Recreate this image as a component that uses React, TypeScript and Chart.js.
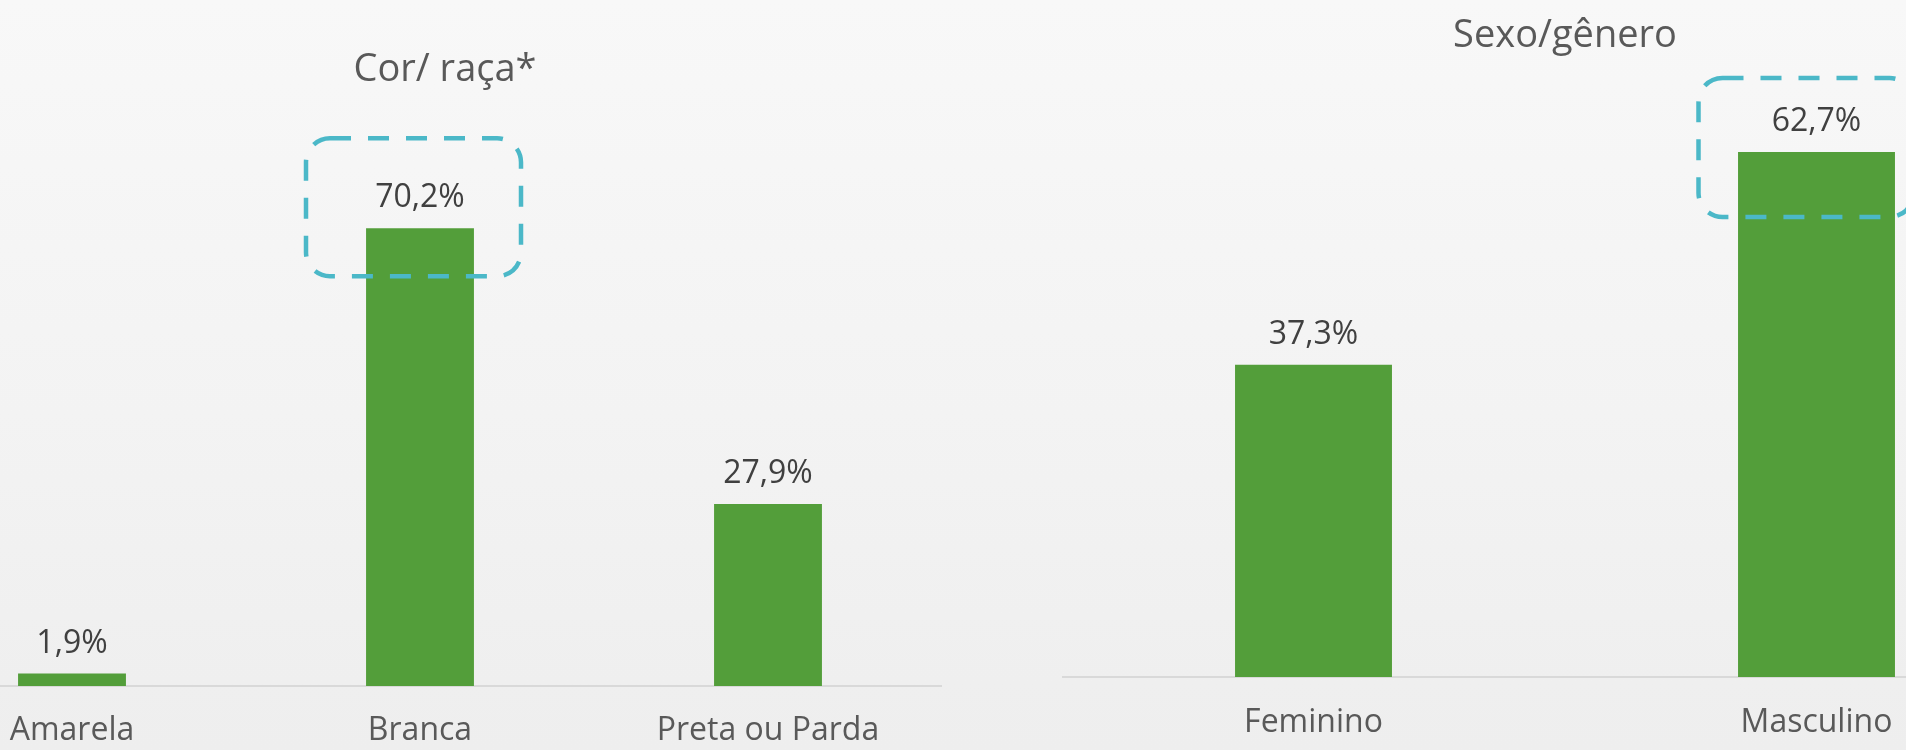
import React, { useEffect, useRef } from 'react';
import { Chart, registerables } from 'chart.js';

Chart.register(...registerables);

// ---- Data ----
const raceTitle = 'Cor/ raça*';
const raceCategories = ['Amarela', 'Branca', 'Preta ou Parda'];
const raceValues = [1.9, 70.2, 27.9];
const raceHighlightIndex = 1;

const sexTitle = 'Sexo/gênero';
const sexCategories = ['Feminino', 'Masculino'];
const sexValues = [37.3, 62.7];
const sexHighlightIndex = 1;

// ---- Styles ----
const FONT = '"Open Sans", "Noto Sans", sans-serif';
const BAR_COLOR = '#539E3A';
const BOX_COLOR = '#4BB8C8';

const fmt = (v: number) => v.toFixed(1).replace('.', ',') + '%';

const decorPlugin = {
  id: 'decor',
  afterDatasetsDraw(chart: any, _args: any, opts: any) {
    const ctx = chart.ctx as CanvasRenderingContext2D;
    const meta = chart.getDatasetMeta(0);
    const data = chart.data.datasets[0].data as number[];
    const area = chart.chartArea;
    ctx.save();
    // value labels
    ctx.font = `32px ${FONT}`;
    ctx.fillStyle = '#404040';
    ctx.textAlign = 'center';
    ctx.textBaseline = 'alphabetic';
    meta.data.forEach((bar: any, i: number) => {
      ctx.fillText(fmt(data[i]), bar.x, bar.y - 21);
    });
    // dashed highlight box
    const hb = meta.data[opts.highlight];
    if (hb) {
      const b = opts.box;
      const x0 = hb.x + b.left;
      const x1 = hb.x + b.right;
      const y0 = hb.y + b.top;
      const y1 = hb.y + b.bottom;
      ctx.setLineDash([21, 17]);
      ctx.lineWidth = 4.5;
      ctx.strokeStyle = BOX_COLOR;
      ctx.beginPath();
      (ctx as any).roundRect(x0, y0, x1 - x0, y1 - y0, 24);
      ctx.stroke();
      ctx.setLineDash([]);
    }
    // title
    ctx.font = `38px ${FONT}`;
    ctx.fillStyle = '#595959';
    ctx.textAlign = 'center';
    ctx.fillText(opts.title, (area.left + area.right) / 2 + opts.titleDx, opts.titleY);
    ctx.restore();
  },
};

type PanelProps = {
  left: number;
  width: number;
  labels: string[];
  values: number[];
  title: string;
  titleDx: number;
  titleY: number;
  highlight: number;
  box: { left: number; right: number; top: number; bottom: number };
  yMax: number;
  padTop: number;
  axisH: number;
  barPct: number;
  tickPad: number;
};

function BarPanel(p: PanelProps) {
  const ref = useRef<HTMLCanvasElement>(null);
  useEffect(() => {
    const chart = new Chart(ref.current!, {
      type: 'bar',
      data: {
        labels: p.labels,
        datasets: [
          {
            data: p.values,
            backgroundColor: BAR_COLOR,
            barPercentage: p.barPct,
            categoryPercentage: 1,
          },
        ],
      },
      options: {
        animation: false,
        responsive: false,
        layout: { padding: { top: p.padTop, left: 0, right: 0, bottom: 0 } },
        plugins: {
          legend: { display: false },
          tooltip: { enabled: false },
          title: { display: false },
          decor: {
            title: p.title,
            titleDx: p.titleDx,
            titleY: p.titleY,
            highlight: p.highlight,
            box: p.box,
          },
        } as any,
        scales: {
          x: {
            grid: { display: false, drawTicks: false },
            border: { display: true, color: '#d9d9d9', width: 2 },
            ticks: {
              font: { family: FONT, size: 32 },
              color: '#595959',
              padding: p.tickPad,
              maxRotation: 0,
              autoSkip: false,
            },
            afterFit: (s: any) => {
              s.height = p.axisH;
            },
          },
          y: { display: false, min: 0, max: p.yMax },
        },
      },
      plugins: [decorPlugin],
    } as any);
    return () => chart.destroy();
  }, []);
  return (
    <div style={{ position: 'absolute', left: p.left, top: 0, width: p.width, height: 750 }}>
      <canvas ref={ref} width={p.width} height={750} style={{ width: p.width, height: 750, display: 'block' }} />
    </div>
  );
}

export default function App() {
  return (
    <div
      style={{
        position: 'fixed',
        left: 0,
        top: 0,
        width: 1906,
        height: 750,
        overflow: 'hidden',
        background: 'linear-gradient(180deg, #f8f8f8 0%, #f3f3f3 55%, #eeeeee 100%)',
      }}
    >
      <BarPanel
        left={-102}
        width={1044}
        labels={raceCategories}
        values={raceValues}
        title={raceTitle}
        titleDx={25}
        titleY={81}
        highlight={raceHighlightIndex}
        box={{ left: -114, right: 101, top: -90, bottom: 48 }}
        yMax={100}
        padTop={34}
        axisH={64}
        barPct={0.31}
        tickPad={26}
      />
      <BarPanel
        left={1062}
        width={1006}
        labels={sexCategories}
        values={sexValues}
        title={sexTitle}
        titleDx={0}
        titleY={47}
        highlight={sexHighlightIndex}
        box={{ left: -118, right: 97, top: -74, bottom: 65 }}
        yMax={75}
        padTop={49}
        axisH={73}
        barPct={0.312}
        tickPad={27}
      />
    </div>
  );
}
